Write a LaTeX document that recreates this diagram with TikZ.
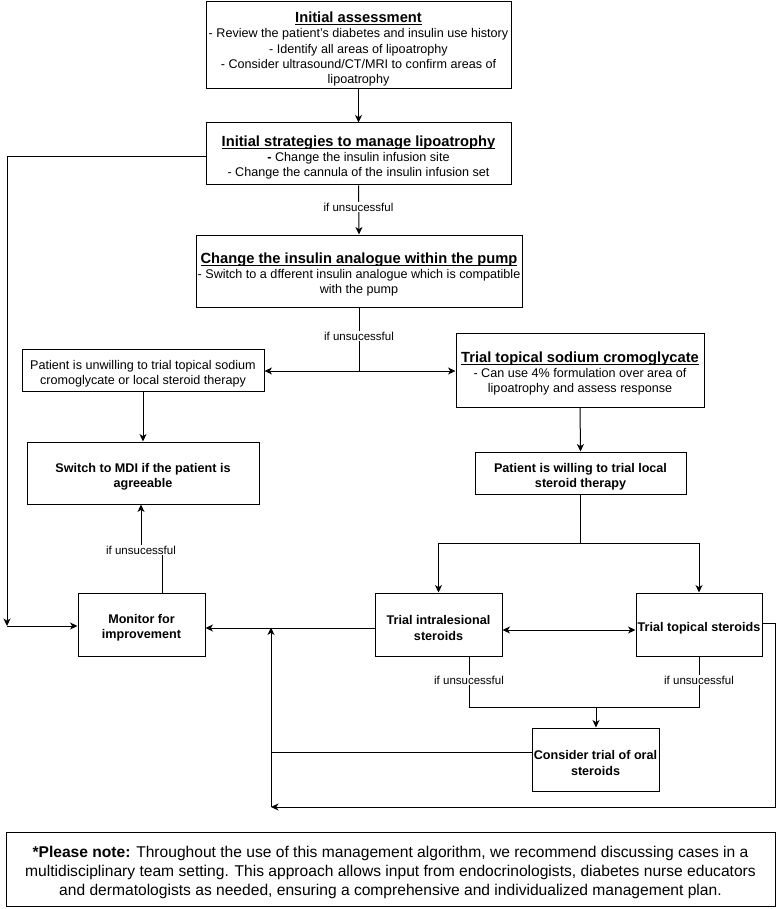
\documentclass[tikz,border=0pt]{standalone}
\usepackage{fontspec}
\setmainfont{Liberation Sans}
\usetikzlibrary{arrows.meta}
\newsavebox{\ulbx}
\newcommand\ulx[1]{\sbox{\ulbx}{#1}\rlap{\rule[-2.2pt]{\wd\ulbx}{1pt}}\usebox{\ulbx}}
\newcommand\ttlx[1]{{\fontsize{14.7}{15.1}\selectfont\bfseries\ulx{#1}}}
\tikzset{
  box/.style={draw, line width=1pt, inner sep=0pt},
  txt/.style={align=center, inner sep=0pt, yshift=-3.5pt, font=\fontsize{12.6}{15.1}\selectfont},
  btxt/.style={txt, font=\fontsize{12.6}{15.1}\selectfont\bfseries},
  notetxt/.style={txt, font=\fontsize{15.6}{19}\selectfont},
  lab/.style={fill=white, inner sep=1pt, font=\fontsize{11.5}{13}\selectfont},
  arr/.style={-{Stealth[length=7.5pt,width=7pt,inset=2.2pt]}, line width=1pt},
  dbl/.style={{Stealth[length=7.5pt,width=7pt,inset=2.2pt]}-{Stealth[length=7.5pt,width=7pt,inset=2.2pt]}, line width=1pt},
  ln/.style={line width=1pt}
}
\begin{document}
\begin{tikzpicture}[x=1pt,y=-1pt]
\useasboundingbox[fill=white] (0,0) rectangle (777,909);

\node[box, minimum width=305pt, minimum height=87pt,
 label={[txt]center:{\ttlx{Initial assessment}\\- Review the patient's diabetes and insulin use history\\- Identify all areas of lipoatrophy\\- Consider ultrasound/CT/MRI to confirm areas of\\lipoatrophy}}] (assess) at (358.5,45.5) {};
\node[box, minimum width=305pt, minimum height=62pt,
 label={[txt]center:{\ttlx{Initial strategies to manage lipoatrophy}\\\textbf{-} Change the insulin infusion site\\- Change the cannula of the insulin infusion set}}] (strat) at (358.5,154) {};
\node[box, minimum width=326pt, minimum height=72pt,
 label={[txt]center:{\ttlx{Change the insulin analogue within the pump}\\- Switch to a dfferent insulin analogue which is compatible\\with the pump}}] (analog) at (359,271) {};
\node[box, minimum width=242pt, minimum height=42pt,
 label={[txt]center:{Patient is unwilling to trial topical sodium\\cromoglycate or local steroid therapy}}] (unwill) at (143,370) {};
\node[box, minimum width=248pt, minimum height=74pt,
 label={[txt]center:{\ttlx{Trial topical sodium cromoglycate}\\- Can use 4\% formulation over area of\\lipoatrophy and assess response}}] (cromo) at (580,370) {};
\node[box, minimum width=232pt, minimum height=62pt,
 label={[btxt]center:{Switch to MDI if the patient is\\agreeable}}] (mdi) at (143,473) {};
\node[box, minimum width=211pt, minimum height=42pt,
 label={[btxt]center:{Patient is willing to trial local\\steroid therapy}}] (willing) at (580.5,473) {};
\node[box, minimum width=127pt, minimum height=63pt,
 label={[btxt]center:{Monitor for\\improvement}}] (monitor) at (141.5,624.5) {};
\node[box, minimum width=127pt, minimum height=63pt,
 label={[btxt]center:{Trial intralesional\\steroids}}] (intra) at (438.5,624.5) {};
\node[box, minimum width=126pt, minimum height=63pt,
 label={[btxt]center:{Trial topical steroids}}] (topical) at (699,624.5) {};
\node[box, minimum width=127pt, minimum height=63pt,
 label={[btxt]center:{Consider trial of oral\\steroids}}] (oral) at (595.5,759.5) {};
\node[box, minimum width=769pt, minimum height=74pt,
 label={[notetxt]center:{\textbf{*Please note:} Throughout the use of this management algorithm, we recommend discussing cases in a\\multidisciplinary team setting. This approach allows input from endocrinologists, diabetes nurse educators\\and dermatologists as needed, ensuring a comprehensive and individualized management plan.}}] (note) at (390.5,869) {};

% coordinates
\coordinate (lefttop) at (7,157);
\coordinate (leftbot) at (7,626);
\coordinate (split) at (359,371);
\coordinate (rsplit) at (580.5,543);
\coordinate (jl) at (271,752);
\coordinate (jb) at (271,807);
\coordinate (jt) at (271,627.5);
\coordinate (re) at (775,623);
\coordinate (jm) at (596,707);

% connectors
\draw[arr] (assess.south) -- (strat.north);
\draw[arr] (strat.west |- lefttop) -- (lefttop) -- (leftbot);
\draw[arr] (leftbot) -- (monitor.west |- leftbot);
\draw[arr] (strat.south) -- (analog.north);
\node[lab] at (358.5,207) {if unsucessful};
\draw[ln] (analog.south) -- (split);
\node[lab] at (359,336) {if unsucessful};
\draw[arr] (split) -- (unwill.east |- split);
\draw[arr] (split) -- (cromo.west |- split);
\draw[arr] (unwill.south) -- (mdi.north);
\draw[arr] (cromo.south) -- (willing.north);
\draw[ln] (willing.south) -- (rsplit);
\draw[arr] (rsplit) -| (intra.north);
\draw[arr] (rsplit) -| (topical.north);
\draw[dbl] (intra.east |- 0,630) -- (topical.west |- 0,630);
\draw[arr] (intra.west |- 0,628) -- (monitor.east |- 0,628);
\draw[arr] (monitor.north -| 162,0) -- (162,552) -- (141,552) -- (mdi.south -| 141,0);
\node[lab] at (141,550) {if unsucessful};
\draw[ln] (intra.south -| 469,0) -- (469,707) -- (699,707) -- (topical.south);
\node[lab] at (469,680) {if unsucessful};
\node[lab] at (699,680) {if unsucessful};
\draw[arr] (jm) -- (oral.north -| jm);
\draw[ln] (oral.west |- jl) -- (jl);
\draw[arr] (jb) -- (jt);
\draw[arr] (topical.east |- re) -- (re) -- (re |- jb) -- (jb);
\end{tikzpicture}
\end{document}
